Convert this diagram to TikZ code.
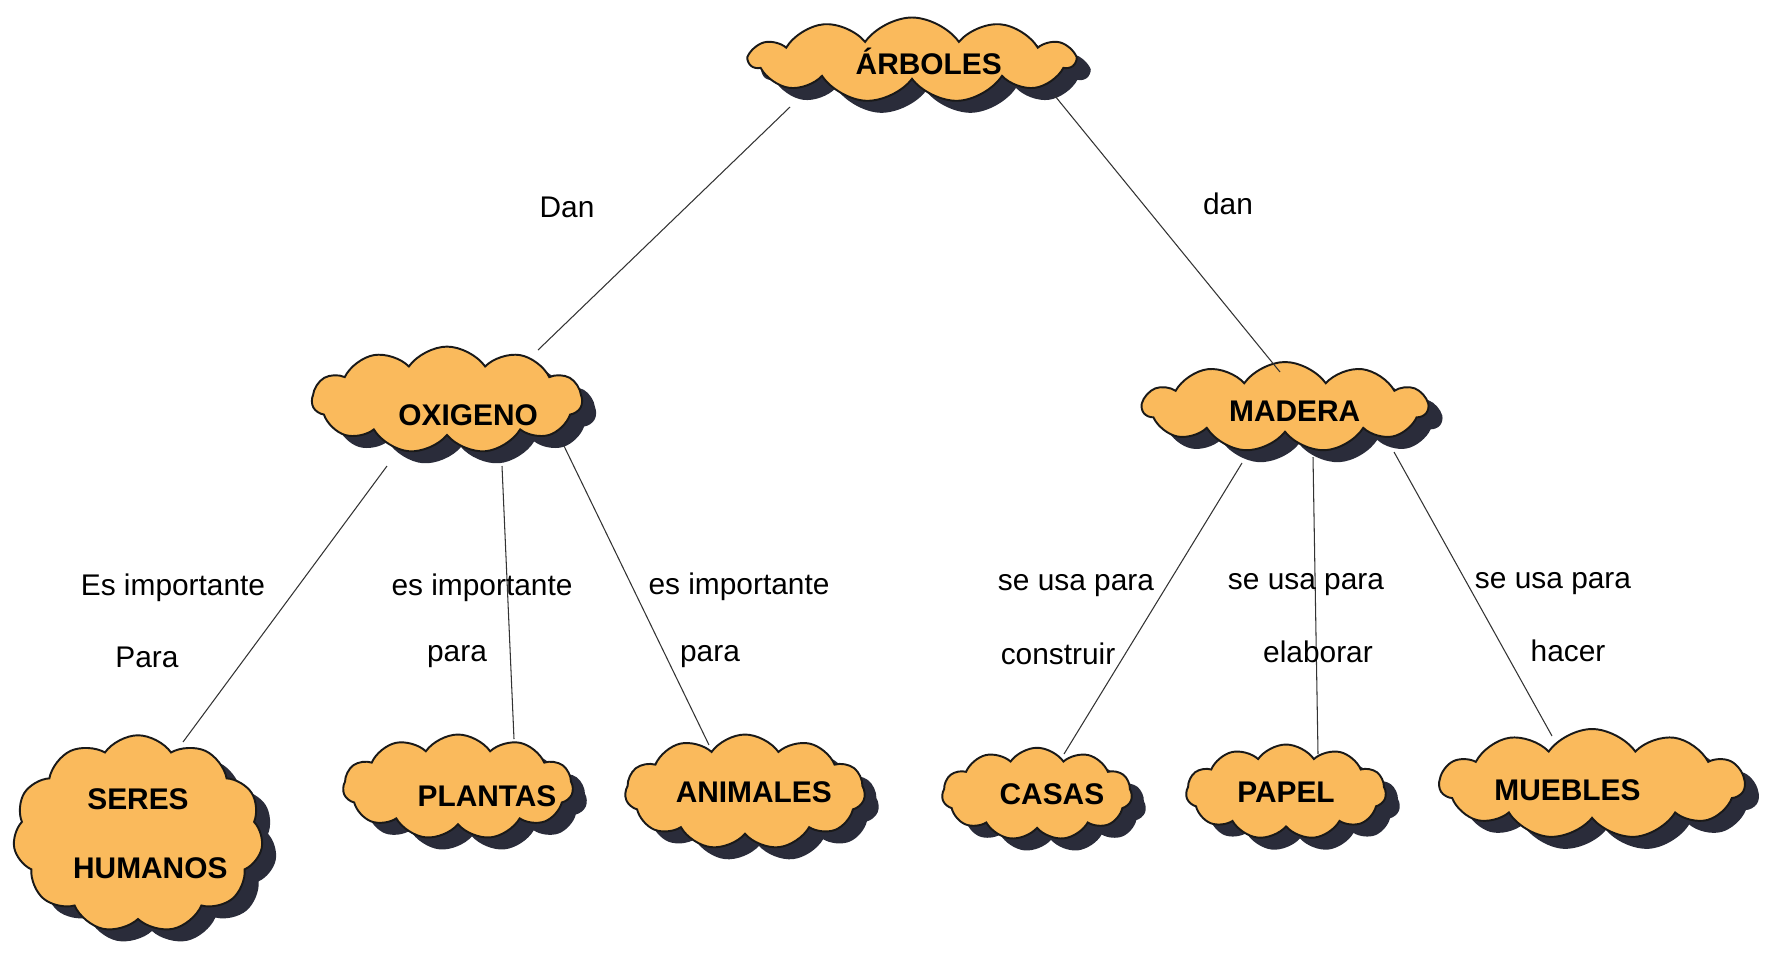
\documentclass[tikz,border=0pt]{standalone}
\usepackage{fontspec}
\setmainfont{Liberation Sans}
\usetikzlibrary{shapes.symbols,shadows,calc}
\definecolor{cloudc}{RGB}{250,186,92}
\definecolor{shadowc}{RGB}{42,44,58}
\begin{document}
\begin{tikzpicture}[x=0.02cm,y=-0.02cm,
  cl/.style={cloud, cloud puffs=11, cloud puff arc=110, cloud ignores aspect,
    draw=black!90, line width=1.1pt, fill=cloudc, inner sep=0pt,
    font=\bfseries\fontsize{17}{20}\selectfont,
    drop shadow={shadow xshift=0.28cm, shadow yshift=-0.24cm, fill=shadowc, opacity=1}},
  lab/.style={font=\fontsize{17}{20}\selectfont, inner sep=0pt},
  conn/.style={draw=black!80, line width=0.6pt}]
\useasboundingbox (0,0) rectangle (1770,954);
% clouds
\node[cl, minimum width=6.5cm, minimum height=1.7cm, text height=16.2pt, text depth=0pt] (arboles) at (912,60) {\hspace*{19pt}ÁRBOLES};
\node[cl, minimum width=5.4cm, minimum height=2.0cm, text height=29pt, text depth=0pt] (oxigeno) at (447,400) {\hspace*{24pt}OXIGENO};
\node[cl, minimum width=5.7cm, minimum height=1.8cm, text height=16pt, text depth=0pt] (madera) at (1285,407) {\hspace*{11pt}MADERA};
\node[cl, align=center, minimum width=5.0cm, minimum height=3.95cm] (seres) at (138,834) {SERES\\[0.68cm]\hspace*{7pt}HUMANOS\hspace*{-7pt}};
\node[cl, minimum width=4.6cm, minimum height=2.1cm, text height=22pt, text depth=0pt] (plantas) at (458,787) {\kern16.5pt PLANTAS\kern-16.5pt};
\node[cl, minimum width=4.6cm, minimum height=2.3cm] (animales) at (745,792) {\hspace*{10pt}ANIMALES};
\node[cl, minimum width=3.8cm, minimum height=1.85cm] (casas) at (1037,794) {\hspace*{17pt}CASAS};
\node[cl, minimum width=4.0cm, minimum height=1.9cm] (papel) at (1286,792) {PAPEL};
\node[cl, minimum width=6.1cm, minimum height=2.2cm, text height=18.6pt, text depth=0pt] (muebles) at (1592,784) {MUEBLES\hspace*{28pt}};
% connectors
\draw[conn] ($(arboles)+(-122,47)$) -- ($(oxigeno)+(91,-50)$);
\draw[conn] ($(arboles)+(143,36)$) -- ($(madera)+(-5,-35)$);
\draw[conn] ($(oxigeno)+(-60,66)$) -- ($(seres)+(45,-92)$);
\draw[conn] ($(oxigeno)+(55,66)$) -- ($(plantas)+(56,-48)$);
\draw[conn] ($(oxigeno)+(117,46)$) -- ($(animales)+(-36,-47)$);
\draw[conn] ($(madera)+(-43,56)$) -- ($(casas)+(27,-40)$);
\draw[conn] ($(madera)+(28,50)$) -- ($(papel)+(32,-38)$);
\draw[conn] ($(madera)+(109,45)$) -- ($(muebles)+(-40,-48)$);
% labels
\node[lab] (l1) at (567,207) {Dan};
\node[lab] (l2) at (1228,204) {dan};
\node[lab] (l3) at (173,588) {Es importante};
\node[lab] (l4) at (147,657) {Para};
\node[lab] (l5) at (482,588) {es importante};
\node[lab] (l6) at (457,657) {para};
\node[lab] (l7) at (739,587) {es importante};
\node[lab] (l8) at (710,657) {para};
\node[lab] (l9) at (1076,586) {se usa para};
\node[lab] (l10) at (1058,654) {construir};
\node[lab] (l11) at (1306,585) {se usa para};
\node[lab] (l12) at (1318,652) {elaborar};
\node[lab] (l13) at (1553,584) {se usa para};
\node[lab] (l14) at (1568,651) {hacer};
\end{tikzpicture}
\end{document}
